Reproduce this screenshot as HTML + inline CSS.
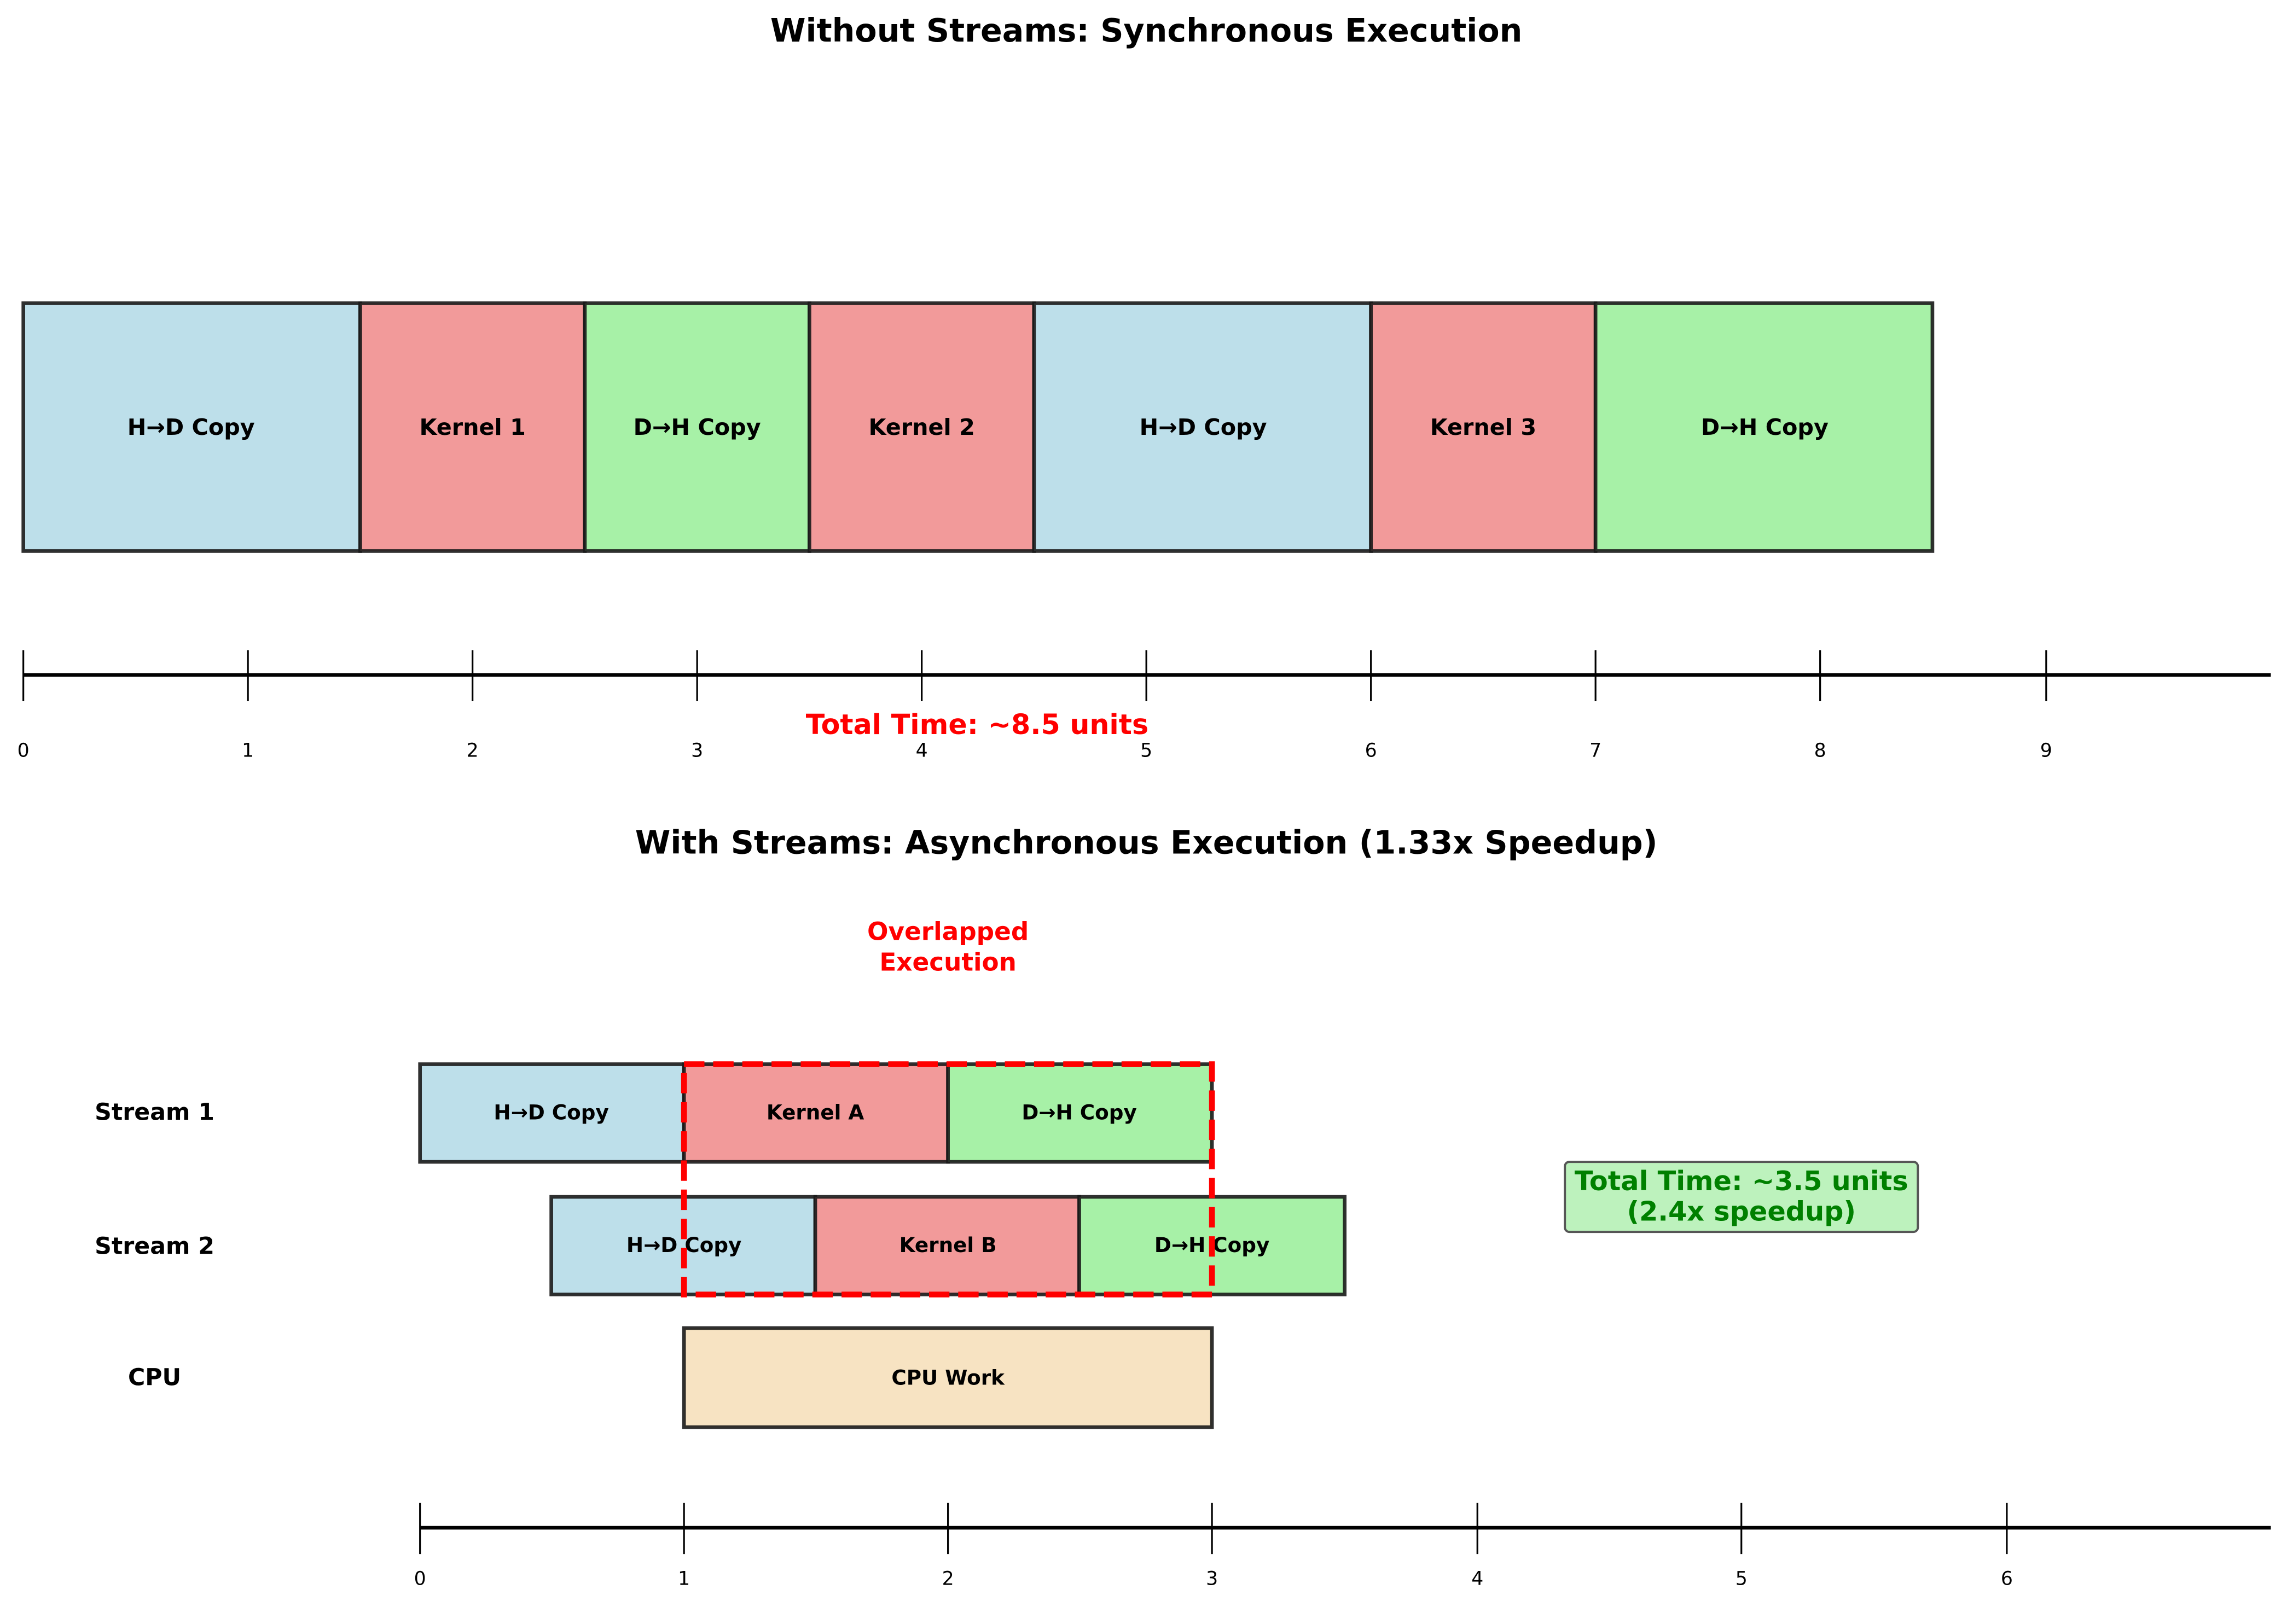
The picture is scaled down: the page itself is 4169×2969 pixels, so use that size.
<!DOCTYPE html>
<html><head><meta charset="utf-8"><style>
html,body{margin:0;padding:0;background:#fff;}
svg{display:block;}
text{font-family:"DejaVu Sans","Liberation Sans",sans-serif;font-weight:bold;dominant-baseline:central;text-anchor:middle;}
text.n{font-weight:normal;}
</style></head><body>
<svg width="4169" height="2969" viewBox="0 0 1564 1114" preserveAspectRatio="none" xmlns="http://www.w3.org/2000/svg">
<rect width="1564" height="1114" fill="#fff"/>
<text x="786" y="21" font-size="22">Without Streams: Synchronous Execution</text>
<g stroke="#1a1a1a" stroke-width="2.5" stroke-opacity="0.9">
<rect x="16" y="208" width="231" height="170" fill="#bddfea"/>
<rect x="247" y="208" width="154" height="170" fill="#f29a9a"/>
<rect x="401" y="208" width="154" height="170" fill="#a7f1a7"/>
<rect x="555" y="208" width="154" height="170" fill="#f29a9a"/>
<rect x="709" y="208" width="231" height="170" fill="#bddfea"/>
<rect x="940" y="208" width="154" height="170" fill="#f29a9a"/>
<rect x="1094" y="208" width="231" height="170" fill="#a7f1a7"/>
</g>
<g font-size="15.5">
<text x="131" y="293">H→D Copy</text>
<text x="324" y="293">Kernel 1</text>
<text x="478" y="293">D→H Copy</text>
<text x="632" y="293">Kernel 2</text>
<text x="825" y="293">H→D Copy</text>
<text x="1017" y="293">Kernel 3</text>
<text x="1210" y="293">D→H Copy</text>
</g>
<line x1="16" y1="463" x2="1557" y2="463" stroke="#000" stroke-width="2.5"/>
<g stroke="#000" stroke-width="1.2">
<line x1="16" y1="446" x2="16" y2="481"/><line x1="170" y1="446" x2="170" y2="481"/>
<line x1="324" y1="446" x2="324" y2="481"/><line x1="478" y1="446" x2="478" y2="481"/>
<line x1="632" y1="446" x2="632" y2="481"/><line x1="786" y1="446" x2="786" y2="481"/>
<line x1="940" y1="446" x2="940" y2="481"/><line x1="1094" y1="446" x2="1094" y2="481"/>
<line x1="1248" y1="446" x2="1248" y2="481"/><line x1="1403" y1="446" x2="1403" y2="481"/>
</g>
<g font-size="13">
<text class="n" x="16" y="515">0</text><text class="n" x="170" y="515">1</text>
<text class="n" x="324" y="515">2</text><text class="n" x="478" y="515">3</text>
<text class="n" x="632" y="515">4</text><text class="n" x="786" y="515">5</text>
<text class="n" x="940" y="515">6</text><text class="n" x="1094" y="515">7</text>
<text class="n" x="1248" y="515">8</text><text class="n" x="1403" y="515">9</text>
</g>
<text x="670" y="497" font-size="19" fill="#ff0000">Total Time: ~8.5 units</text>

<text x="786" y="578" font-size="22">With Streams: Asynchronous Execution (1.33x Speedup)</text>
<text x="650" y="639" font-size="17" fill="#ff0000">Overlapped</text>
<text x="650" y="660" font-size="17" fill="#ff0000">Execution</text>
<g font-size="16">
<text x="106" y="763">Stream 1</text>
<text x="106" y="855">Stream 2</text>
<text x="106" y="945">CPU</text>
</g>
<g stroke="#1a1a1a" stroke-width="2.5" stroke-opacity="0.9">
<rect x="288" y="730" width="181" height="67" fill="#bddfea"/>
<rect x="469" y="730" width="181" height="67" fill="#f29a9a"/>
<rect x="650" y="730" width="181" height="67" fill="#a7f1a7"/>
<rect x="378" y="821" width="181" height="67" fill="#bddfea"/>
<rect x="559" y="821" width="181" height="67" fill="#f29a9a"/>
<rect x="740" y="821" width="182" height="67" fill="#a7f1a7"/>
<rect x="469" y="911" width="362" height="68" fill="#f7e3c2"/>
</g>
<g font-size="14">
<text x="378" y="763">H→D Copy</text>
<text x="559" y="763">Kernel A</text>
<text x="740" y="763">D→H Copy</text>
<text x="469" y="854">H→D Copy</text>
<text x="650" y="854">Kernel B</text>
<text x="831" y="854">D→H Copy</text>
<text x="650" y="945">CPU Work</text>
</g>
<rect x="469" y="730" width="362" height="158" fill="none" stroke="#ff0000" stroke-width="4" stroke-dasharray="14,6"/>
<rect x="1073" y="797" width="242" height="48" rx="3" fill="#bdf2bd" stroke="#555" stroke-width="1.5"/>
<text x="1194" y="810" font-size="18.5" fill="#008000">Total Time: ~3.5 units</text>
<text x="1194" y="831" font-size="18.5" fill="#008000">(2.4x speedup)</text>
<line x1="288" y1="1048" x2="1557" y2="1048" stroke="#000" stroke-width="2.5"/>
<g stroke="#000" stroke-width="1.2">
<line x1="288" y1="1031" x2="288" y2="1066"/><line x1="469" y1="1031" x2="469" y2="1066"/>
<line x1="650" y1="1031" x2="650" y2="1066"/><line x1="831" y1="1031" x2="831" y2="1066"/>
<line x1="1013" y1="1031" x2="1013" y2="1066"/><line x1="1194" y1="1031" x2="1194" y2="1066"/>
<line x1="1376" y1="1031" x2="1376" y2="1066"/>
</g>
<g font-size="13">
<text class="n" x="288" y="1083">0</text><text class="n" x="469" y="1083">1</text>
<text class="n" x="650" y="1083">2</text><text class="n" x="831" y="1083">3</text>
<text class="n" x="1013" y="1083">4</text><text class="n" x="1194" y="1083">5</text>
<text class="n" x="1376" y="1083">6</text>
</g>
</svg>
</body></html>
